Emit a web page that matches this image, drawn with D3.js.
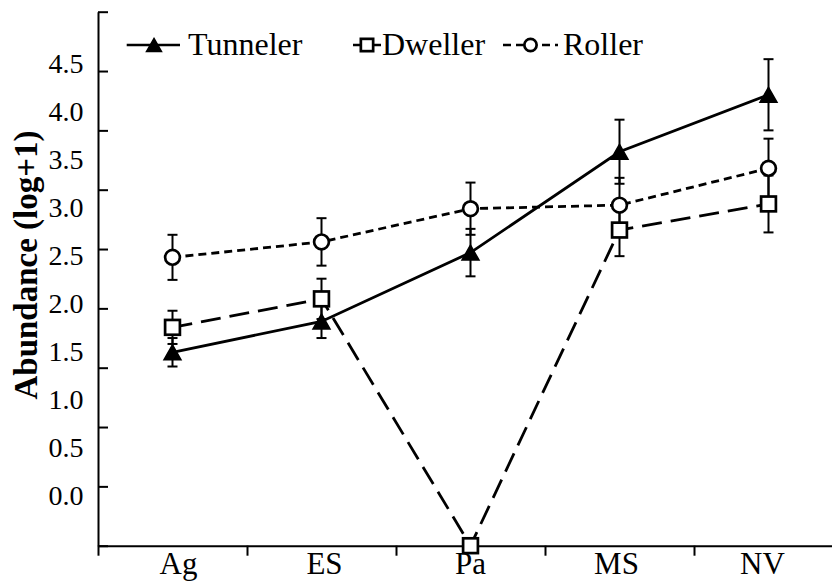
<!DOCTYPE html>
<html>
<head>
<meta charset="utf-8">
<script src="https://cdn.jsdelivr.net/npm/d3@7"></script>
<style>
  html, body { margin: 0; padding: 0; background: #fff; }
  svg { display: block; }
  text { font-family: "Liberation Serif", "Times New Roman", serif; fill: #000; }
</style>
</head>
<body>
<svg id="chart" width="832" height="581"></svg>
<script>
// Habitat categories along the x axis
const categories = ["Ag", "ES", "Pa", "MS", "NV"];

// Mean abundance (log+1) and standard errors per functional group
const tunneler   = [1.63, 1.89, 2.47, 3.32, 3.80];
const tunnelerSE = [0.12, 0.14, 0.20, 0.27, 0.30];
const dweller    = [1.84, 2.08, 0.00, 2.66, 2.88];
const dwellerSE  = [0.14, 0.17, 0.00, 0.22, 0.24];
const roller     = [2.43, 2.56, 2.84, 2.87, 3.18];
const rollerSE   = [0.19, 0.20, 0.22, 0.23, 0.25];

// Y tick marks and their printed labels
const yTicks = [0, 0.5, 1.0, 1.5, 2.0, 2.5, 3.0, 3.5, 4.0, 4.5];
const yTickLabels = ["0.0", "0.5", "1.0", "1.5", "2.0", "2.5", "3.0", "3.5", "4.0", "4.5"];

const svg = d3.select("#chart");
const plotLeft = 98, plotRight = 843, plotTop = 11.7, plotBottom = 545.7;

const x = d3.scaleBand().domain(categories).range([plotLeft, plotRight]).padding(0);
const xBounds = d3.scaleLinear().domain([0, categories.length]).range([plotLeft, plotRight]);
const xLabel = d3.scalePoint().domain(categories).range([178, 762]);
const y = d3.scaleLinear().domain([0, 4.5]).range([plotBottom, plotTop]);
const yLabel = d3.scaleLinear().domain([0, 4.5]).range([496, 63.3]);

// Axes
const gx = svg.append("g").attr("transform", `translate(0,${plotBottom})`)
  .call(d3.axisBottom(xBounds).tickValues(d3.range(0, categories.length + 1))
    .tickFormat("").tickSize(10).tickSizeOuter(0));
gx.selectAll("path, line").attr("stroke", "#000").attr("stroke-width", 2);

svg.append("g").attr("transform", "translate(0,574.3)")
  .call(d3.axisBottom(xLabel).tickSize(0).tickPadding(0))
  .call(g => g.select(".domain").remove())
  .selectAll("text")
  .attr("font-size", 31).attr("y", 0).attr("dy", 0)
  .style("font-family", "'Liberation Serif', 'Times New Roman', serif");

const gy = svg.append("g").attr("transform", `translate(${plotLeft},0)`)
  .call(d3.axisLeft(y).tickValues(yTicks).tickFormat("").tickSize(-10).tickSizeOuter(0));
gy.selectAll("path, line").attr("stroke", "#000").attr("stroke-width", 2);

svg.append("g").attr("transform", "translate(83.5,0)")
  .call(d3.axisLeft(yLabel).tickValues(yTicks)
    .tickFormat((d, i) => yTickLabels[i]).tickSize(0).tickPadding(0))
  .call(g => g.select(".domain").remove())
  .selectAll("text")
  .attr("font-size", 28)
  .style("font-family", "'Liberation Serif', 'Times New Roman', serif");

// Axis title
svg.append("text")
  .attr("transform", "rotate(-90)")
  .attr("x", -265).attr("y", 36.7)
  .attr("text-anchor", "middle")
  .attr("font-size", 33).attr("font-weight", "bold")
  .text("Abundance (log+1)");

// Series definitions
const series = [
  { name: "Tunneler", values: tunneler, se: tunnelerSE, dash: null, marker: "triangle" },
  { name: "Dweller",  values: dweller,  se: dwellerSE,  dash: "20,9", marker: "square" },
  { name: "Roller",   values: roller,   se: rollerSE,   dash: "8,5", marker: "circle" }
];

const cx = c => x(c) + x.bandwidth() / 2;

// Error bars
const errG = svg.append("g");
series.forEach(s => {
  categories.forEach((c, i) => {
    if (s.se[i] <= 0) return;
    const x0 = cx(c), y1 = y(s.values[i] + s.se[i]), y2 = y(s.values[i] - s.se[i]);
    errG.append("line").attr("x1", x0).attr("x2", x0).attr("y1", y1).attr("y2", y2)
      .attr("stroke", "#000").attr("stroke-width", 2);
    [y1, y2].forEach(yy => errG.append("line")
      .attr("x1", x0 - 5).attr("x2", x0 + 5).attr("y1", yy).attr("y2", yy)
      .attr("stroke", "#000").attr("stroke-width", 2));
  });
});

// Lines
const line = d3.line().x((d, i) => cx(categories[i])).y(d => y(d));
series.forEach(s => {
  svg.append("path").datum(s.values)
    .attr("d", line).attr("fill", "none")
    .attr("stroke", "#000").attr("stroke-width", 2.8)
    .attr("stroke-dasharray", s.dash);
});

// Marker drawing helper
function drawMarker(g, type, px, py, size) {
  if (type === "triangle") {
    const w = size, h = size * 0.88;
    g.append("path")
      .attr("d", `M${px},${py - h / 2}L${px + w / 2},${py + h / 2}L${px - w / 2},${py + h / 2}Z`)
      .attr("fill", "#000").attr("stroke", "#000").attr("stroke-width", 1.5)
      .attr("stroke-linejoin", "miter");
  } else if (type === "square") {
    const s = size - 2.7;
    g.append("rect").attr("x", px - s / 2).attr("y", py - s / 2)
      .attr("width", s).attr("height", s)
      .attr("fill", "#fff").attr("stroke", "#000").attr("stroke-width", 2.7);
  } else {
    g.append("circle").attr("cx", px).attr("cy", py).attr("r", (size - 2.7) / 2)
      .attr("fill", "#fff").attr("stroke", "#000").attr("stroke-width", 2.7);
  }
}

const markG = svg.append("g");
series.forEach(s => {
  categories.forEach((c, i) => drawMarker(markG, s.marker, cx(c), y(s.values[i]), s.marker === "triangle" ? 17 : 17.5));
});

// Legend
const legendY = 45;
const legendItems = [
  { s: series[0], x1: 126.7, x2: 180, mx: 154, tx: 188 },
  { s: series[1], x1: 353, x2: 381, mx: 367, tx: 382 },
  { s: series[2], x1: 503, x2: 558, mx: 530.5, tx: 563 }
];
const legG = svg.append("g");
legendItems.forEach(it => {
  legG.append("line").attr("x1", it.x1).attr("x2", it.x2)
    .attr("y1", legendY).attr("y2", legendY)
    .attr("stroke", "#000").attr("stroke-width", 2.5)
    .attr("stroke-dasharray", it.s.name === "Roller" ? "8,5" : null);
  drawMarker(legG, it.s.marker, it.mx, legendY, 15);
  legG.append("text").attr("x", it.tx).attr("y", 55)
    .attr("font-size", 32).text(it.s.name);
});
</script>
</body>
</html>
